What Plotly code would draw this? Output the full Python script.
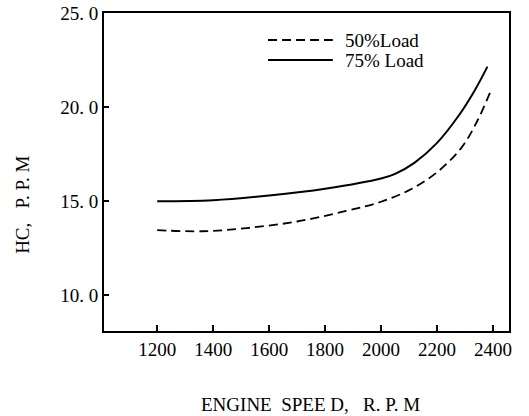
import plotly.graph_objects as go

speed_75 = [1200, 1400, 1600, 1800, 2000, 2050, 2120, 2200, 2275, 2335, 2380]
hc_75 = [15.0, 15.05, 15.3, 15.66, 16.2, 16.45, 17.05, 18.1, 19.5, 20.9, 22.15]

speed_50 = [1200, 1360, 1520, 1700, 1875, 2000, 2110, 2205, 2290, 2345, 2390]
hc_50 = [13.46, 13.4, 13.57, 13.92, 14.48, 14.97, 15.66, 16.6, 17.9, 19.3, 20.8]

series_names = ["50%Load", "75% Load"]

x_ticks = [1200, 1400, 1600, 1800, 2000, 2200, 2400]
x_ticktext = ["1200", "1400", "1600", "1800", "2000", "2200", "2400"]
y_ticks = [10, 15, 20, 25]
y_ticktext = ["10. 0", "15. 0", "20. 0", "25. 0"]

FONT = "Liberation Serif, Times New Roman, serif"
FS = 19
DASH = "9px,5px"

fig = go.Figure()
fig.add_trace(go.Scatter(x=speed_50, y=hc_50, mode="lines", name=series_names[0],
                         showlegend=False,
                         line=dict(color="black", width=1.8, dash=DASH, shape="spline")))
fig.add_trace(go.Scatter(x=speed_75, y=hc_75, mode="lines", name=series_names[1],
                         showlegend=False,
                         line=dict(color="black", width=2, shape="spline")))

# hand-drawn style legend (inside plot, top)
leg_x0, leg_x1, leg_tx = 0.405, 0.565, 0.590
leg_y = [0.915, 0.852]
leg_dash = [DASH, "solid"]
shapes = []
annots = []
for name, yy, d in zip(series_names, leg_y, leg_dash):
    shapes.append(dict(type="line", xref="paper", yref="paper",
                       x0=leg_x0, x1=leg_x1, y0=yy, y1=yy,
                       line=dict(color="black", width=2, dash=d)))
    annots.append(dict(text=name, xref="paper", yref="paper", x=leg_tx, y=yy,
                       xanchor="left", yanchor="middle", showarrow=False,
                       font=dict(family=FONT, size=FS)))

annots += [
    dict(text="ENGINE  SPEE D,   R. P. M", xref="paper", yref="paper",
         x=0.51, y=-0.23, xanchor="center", yanchor="middle",
         showarrow=False, font=dict(family=FONT, size=FS)),
    dict(text="HC,   P. P. M", xref="paper", yref="paper",
         x=-0.203, y=0.396, xanchor="center", yanchor="middle", textangle=-90,
         showarrow=False, font=dict(family=FONT, size=FS)),
]

fig.update_layout(
    width=529, height=416,
    margin=dict(l=104, r=20, t=13, b=85, autoexpand=False),
    paper_bgcolor="white", plot_bgcolor="white",
    font=dict(family=FONT, size=FS, color="black"),
    showlegend=False,
    xaxis=dict(range=[1010, 2457], tickvals=x_ticks, ticktext=x_ticktext,
               ticks="inside", ticklen=6, tickwidth=2, tickcolor="black",
               showline=True, linecolor="black", linewidth=2, mirror=True,
               showgrid=False, zeroline=False, automargin=False,
               tickfont=dict(family=FONT, size=FS)),
    yaxis=dict(range=[8.1, 25.0], tickvals=y_ticks, ticktext=y_ticktext,
               ticks="inside", ticklen=5, tickwidth=2, tickcolor="black",
               showline=True, linecolor="black", linewidth=2, mirror=True,
               showgrid=False, zeroline=False, automargin=False,
               tickfont=dict(family=FONT, size=FS)),
    shapes=shapes,
    annotations=annots,
)

fig.write_html("out.html")
